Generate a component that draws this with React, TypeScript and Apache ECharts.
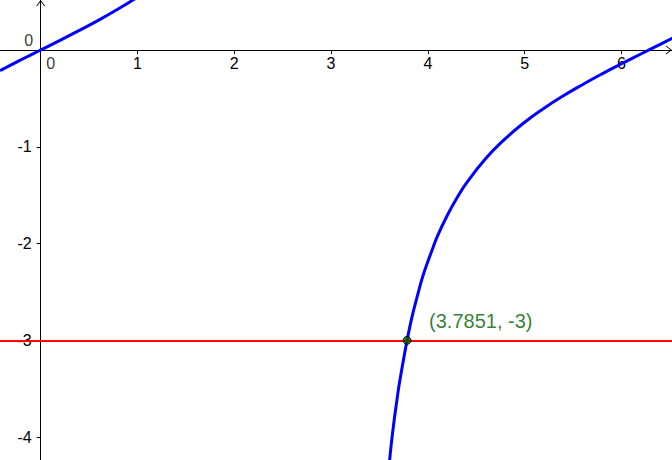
import React, { useEffect, useRef } from "react";
import * as echarts from "echarts";

// Visible window of the plot (axis units)
const xRange = [-0.42, 6.522];
const yRange = [-4.236, 0.5165];

// Tick values
const xTickValues = [0, 1, 2, 3, 4, 5, 6];
const xLabelValues = [1, 2, 3, 4, 5, 6];
const yTickValues = [-4, -3, -2, -1, 0];
const yLabelValues = [-4, -3, -2, -1];

// Blue curve, left branch
const branchA: [number, number][] = [
  [-0.42, -0.213], [-0.3, -0.151], [-0.2, -0.1], [-0.1, -0.05], [0, 0],
  [0.2, 0.1], [0.4, 0.203], [0.6, 0.309], [0.8, 0.423], [1.0, 0.546],
];

// Blue curve, right branch
const branchB: [number, number][] = [
  [3.55, -4.83], [3.58, -4.49], [3.6, -4.29], [3.62, -4.09], [3.65, -3.84],
  [3.68, -3.62], [3.7, -3.48], [3.75, -3.19], [3.7851, -3.0], [3.82, -2.83],
  [3.85, -2.7], [3.9, -2.51], [3.95, -2.33], [4.0, -2.185], [4.05, -2.05],
  [4.1, -1.92], [4.2, -1.71], [4.3, -1.53], [4.4, -1.374], [4.6, -1.119],
  [4.8, -0.916], [5.0, -0.747], [5.2, -0.602], [5.4, -0.473], [5.6, -0.356],
  [5.8, -0.246], [6.0, -0.1425], [6.2, -0.0416], [6.4, 0.0585], [6.6, 0.16],
];

// Horizontal red line level
const redLevel = -3;

// Intersection point
const intersection: [number, number] = [3.7851, -3];
const intersectionLabel = "(3.7851, -3)";

// Origin labels
const origin: [number, number] = [0, 0];

const W = 672;
const H = 460;
const FONT = "'Liberation Sans', Arial, sans-serif";
const chevron = "path://M0 10 L7.5 0 L15 10 L13.2 10 L7.5 2.4 L1.8 10 Z";

export default function App() {
  const ref = useRef<HTMLDivElement>(null);

  useEffect(() => {
    if (!ref.current) return;
    const chart = echarts.init(ref.current, undefined, { renderer: "svg" });
    // place the axes through the origin
    const xAxisOffset = -(H * (0 - yRange[0])) / (yRange[1] - yRange[0]);
    const yAxisOffset = -(W * (0 - xRange[0])) / (xRange[1] - xRange[0]);
    const axisLineCommon = {
      show: true,
      onZero: false,
      symbol: ["none", chevron],
      symbolSize: [9, 6],
      symbolOffset: [0, -3],
      lineStyle: { color: "#000", width: 1 },
    };
    chart.setOption({
      animation: false,
      backgroundColor: "#fff",
      grid: {
        left: 0, right: 0, top: 0, bottom: 0,
        containLabel: false,
        outerBoundsMode: "none",
      },
      xAxis: {
        type: "value",
        position: "bottom",
        offset: xAxisOffset,
        min: xRange[0],
        max: xRange[1],
        splitLine: { show: false },
        axisLine: axisLineCommon,
        axisTick: { show: true, inside: false, length: 4, customValues: xTickValues, lineStyle: { color: "#000" } },
        axisLabel: {
          show: true,
          customValues: xLabelValues,
          margin: 6,
          color: "#000",
          fontSize: 16,
          fontFamily: FONT,
        },
      },
      yAxis: {
        type: "value",
        position: "left",
        offset: yAxisOffset,
        min: yRange[0],
        max: yRange[1],
        splitLine: { show: false },
        axisLine: axisLineCommon,
        axisTick: { show: true, inside: false, length: 4, customValues: yTickValues, lineStyle: { color: "#000" } },
        axisLabel: {
          show: true,
          customValues: yLabelValues,
          margin: 9,
          color: "#000",
          fontSize: 16,
          fontFamily: FONT,
        },
      },
      series: [
        {
          type: "line",
          data: [],
          markLine: {
            silent: true,
            symbol: ["none", "none"],
            label: { show: false },
            lineStyle: { color: "#ff0000", width: 2, type: "solid" },
            data: [{ yAxis: redLevel }],
          },
        },
        {
          type: "line",
          data: branchA,
          smooth: true,
          showSymbol: false,
          clip: true,
          lineStyle: { color: "#0000ff", width: 3 },
        },
        {
          type: "line",
          data: branchB,
          smooth: true,
          showSymbol: false,
          clip: true,
          lineStyle: { color: "#0000ff", width: 3 },
        },
        {
          type: "scatter",
          symbol: "circle",
          symbolSize: 8,
          itemStyle: { color: "#005a00", borderColor: "#000", borderWidth: 1 },
          data: [intersection],
          label: {
            show: true,
            position: "inside",
            offset: [22, -19],
            align: "left",
            verticalAlign: "middle",
            formatter: () => intersectionLabel,
            color: "#006000",
            textBorderWidth: 0,
            textBorderColor: "transparent",
            fontSize: 20,
            fontFamily: FONT,
          },
          z: 5,
        },
        {
          type: "scatter",
          symbolSize: 0,
          silent: true,
          data: [
            {
              value: origin,
              label: {
                show: true, position: "inside", offset: [10, 14], formatter: "0",
                color: "#000", textBorderWidth: 0, fontSize: 16, fontFamily: FONT,
              },
            },
            {
              value: origin,
              label: {
                show: true, position: "inside", offset: [-12, -9], formatter: "0",
                color: "#000", textBorderWidth: 0, fontSize: 16, fontFamily: FONT,
              },
            },
          ],
          label: {
            color: "#000",
            textBorderWidth: 0,
            fontSize: 16,
            fontFamily: FONT,
            align: "center",
            verticalAlign: "middle",
          },
        },
      ],
    });
    return () => chart.dispose();
  }, []);

  return (
    <div
      ref={ref}
      style={{ position: "fixed", left: 0, top: 0, width: W, height: H, background: "#fff" }}
    />
  );
}
